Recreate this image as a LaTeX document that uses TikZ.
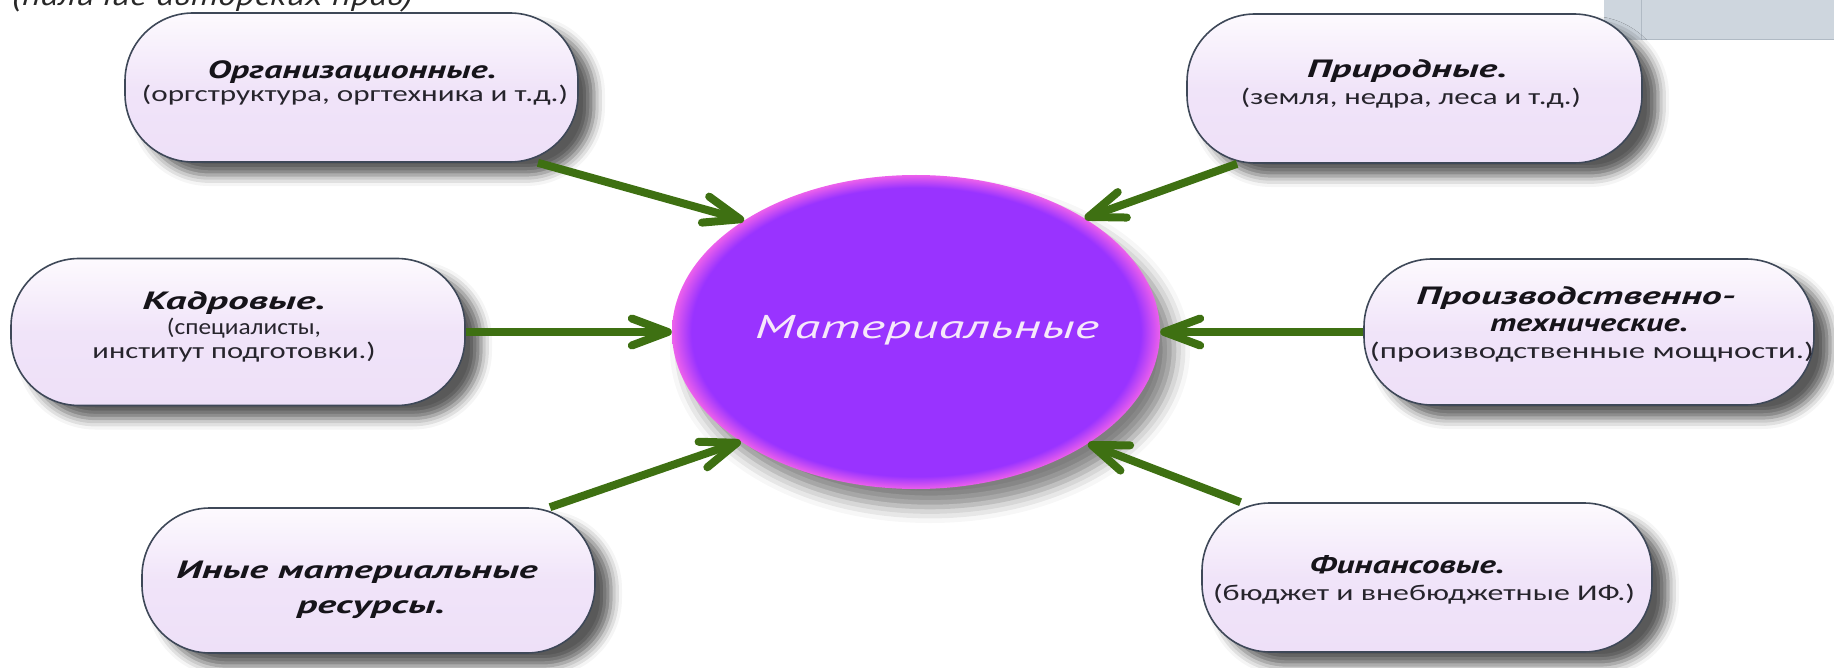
\documentclass[tikz,border=0pt]{standalone}
\usepackage{fontspec}
\usepackage{graphicx}
\setmainfont{PT Sans}
\newfontfamily\subfont{Carlito}
\usetikzlibrary{arrows.meta,shadows.blur,shapes.geometric}
\definecolor{arrowgreen}{RGB}{62,112,18}
\definecolor{boxfill}{RGB}{238,224,248}
\definecolor{boxtop}{RGB}{253,250,254}
\definecolor{boxedge}{RGB}{62,72,88}
\definecolor{matpurple}{RGB}{153,51,255}
\definecolor{matrim}{RGB}{236,96,236}
\definecolor{matlabel}{RGB}{246,232,250}
\definecolor{ttlcol}{RGB}{22,20,26}
\definecolor{subcol}{RGB}{38,36,44}
\definecolor{notecol}{RGB}{40,40,40}
\definecolor{slidegray}{RGB}{206,214,222}
\definecolor{slideline}{RGB}{176,186,196}
\pgfdeclareradialshading{matglow}{\pgfpoint{0bp}{0bp}}{color(0bp)=(matpurple); color(23bp)=(matpurple); color(24.4bp)=(matrim!70!matpurple); color(25bp)=(matrim); color(50bp)=(matrim)}
\newcommand{\fitw}[2]{\resizebox{#1pt}{\height}{#2}}
\begin{document}
\begin{tikzpicture}[x=1pt,y=-1pt,
  box/.style={draw=boxedge, line width=1.6pt, rectangle, rounded corners=68pt,
    inner sep=0pt, minimum width=453pt, minimum height=149pt,
    top color=boxtop, bottom color=boxfill, middle color=boxfill!85!boxtop,
    blur shadow={shadow xshift=16pt, shadow yshift=-13pt, shadow blur radius=11pt, shadow opacity=65}},
  matshape/.style={ellipse, minimum width=488pt, minimum height=314pt, inner sep=0pt,
    shade, shading=matglow,
    blur shadow={shadow xshift=14pt, shadow yshift=-18pt, shadow blur radius=16pt, shadow opacity=50}},
  ttl/.style={inner sep=0pt, anchor=base, text=ttlcol, font=\fontsize{25}{29}\selectfont\bfseries\itshape},
  sub/.style={inner sep=0pt, anchor=base, text=subcol, font=\subfont\fontsize{22.5}{26}\selectfont},
  link/.style={draw=arrowgreen, line width=8pt, -{Straight Barb[length=36pt,width=27pt,round]}}]
\useasboundingbox (0,0) rectangle (1834,668);

% partially visible slide elements
\node[inner sep=0pt, anchor=base west, text=notecol, font=\fontsize{30}{34}\selectfont\itshape] (note) at (12,6) {\fitw{401}{(наличие авторских прав)}};
\fill[slidegray] (1604,0) rectangle (1834,40);
\draw[slideline, line width=1pt] (1641,0) -- (1641,40) -- (1834,40);

% centre
\node[matshape] (mat) at (916,332) {};
\node[inner sep=0pt, anchor=base, text=matlabel, font=\fontsize{33}{38}\selectfont\itshape] (matT) at (927,339) {\fitw{344}{Материальные}};

% boxes
\node[box] (org) at (351.5,87.5) {};
\node[ttl] (orgT) at (352,79) {\fitw{289}{Организационные.}};
\node[sub] (orgS) at (355,102) {\fitw{426}{(оргструктура, оргтехника и т.д.)}};

\node[box, minimum width=455pt] (nat) at (1414.5,88.5) {};
\node[ttl] (natT) at (1407,78) {\fitw{200}{Природные.}};
\node[sub] (natS) at (1411,105) {\fitw{340}{(земля, недра, леса и т.д.)}};

\node[box, minimum width=454pt, minimum height=147pt] (kad) at (238,332) {};
\node[ttl] (kadT) at (234,309.5) {\fitw{183}{Кадровые.}};
\node[sub] (kadS1) at (244,335) {\fitw{154}{(специалисты,}};
\node[sub] (kadS2) at (234,359) {\fitw{283}{институт подготовки.)}};

\node[box, minimum width=450pt, minimum height=146pt] (prod) at (1589,332) {};
\node[ttl] (prodT1) at (1576,305) {\fitw{319}{Производственно-}};
\node[ttl] (prodT2) at (1589,332) {\fitw{198}{технические.}};
\node[sub] (prodS) at (1592,359) {\fitw{444}{(производственные мощности.)}};

\node[box, minimum height=145pt] (other) at (368.5,580.5) {};
\node[ttl] (othT1) at (357,578) {\fitw{361}{Иные материальные}};
\node[ttl] (othT2) at (371,613) {\fitw{148}{ресурсы.}};

\node[box, minimum width=450pt] (fin) at (1427,577.5) {};
\node[ttl] (finT) at (1407,573) {\fitw{195}{Финансовые.}};
\node[sub] (finS) at (1424,600) {\fitw{422}{(бюджет и внебюджетные ИФ.)}};

% connectors
\draw[link] (org.-22) -- (mat.147);
\draw[link] (nat.203) -- (mat.34);
\draw[link] (kad.east) -- (mat.west);
\draw[link] (prod.west) -- (mat.east);
\draw[link] (other.22) -- (mat.212);
\draw[link] (fin.158) -- (mat.-33);
\end{tikzpicture}
\end{document}
